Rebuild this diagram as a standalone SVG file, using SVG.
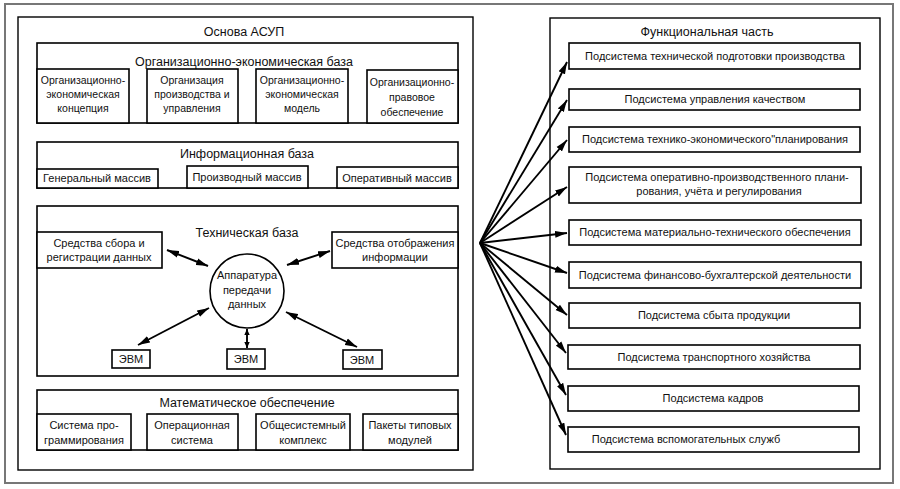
<svg xmlns="http://www.w3.org/2000/svg" width="900" height="489" viewBox="0 0 900 489">
<defs>
<marker id="ah" markerUnits="userSpaceOnUse" markerWidth="12" markerHeight="8" refX="12" refY="4" orient="auto-start-reverse">
<path d="M0,0.5 L12,4 L0,7.5 z" fill="#000"/>
</marker>
<marker id="as" markerUnits="userSpaceOnUse" markerWidth="6" markerHeight="6" refX="6" refY="3" orient="auto-start-reverse">
<path d="M0,0.3 L6,3 L0,5.7 z" fill="#000"/>
</marker>
</defs>
<style>
text{font-family:"Liberation Sans",Arial,sans-serif;font-size:11px;fill:#111;text-anchor:middle}
.t{font-size:12.5px}
.h{font-size:12.5px}
.s{font-size:10.5px}
.b{fill:#fff;stroke:#000;stroke-width:1.6}
.p{fill:none;stroke:#000;stroke-width:1.4}
.c{stroke:#000;stroke-width:1.9;fill:none;marker-end:url(#ah)}
.d{stroke:#000;stroke-width:1.9;fill:none;marker-end:url(#ah);marker-start:url(#ah)}
.ds{stroke:#000;stroke-width:1.9;fill:none;marker-end:url(#as);marker-start:url(#as)}
</style>
<rect width="900" height="489" fill="#fff"/>
<rect x="5" y="4" width="888" height="479" fill="none" stroke="#777" stroke-width="2"/>

<g id="osnova">
<rect class="p" x="18" y="17" width="455" height="453"/>
<text class="t" x="244" y="36">Основа АСУП</text>
</g>

<g id="org-base">
<rect class="b" x="37" y="43" width="421" height="80"/>
<text class="h" x="244" y="66">Организационно-экономическая база</text>
</g>
<g id="org1"><rect class="b" x="37" y="69" width="92" height="54"/>
<text class="s" x="83" y="84">Организационно-</text><text class="s" x="83" y="98">экономическая</text><text class="s" x="83" y="112">концепция</text></g>
<g id="org2"><rect class="b" x="147" y="69" width="91" height="54"/>
<text class="s" x="192" y="84">Организация</text><text class="s" x="192" y="98">производства и</text><text class="s" x="192" y="112">управления</text></g>
<g id="org3"><rect class="b" x="256" y="69" width="92" height="54"/>
<text class="s" x="302" y="84">Организационно-</text><text class="s" x="302" y="98">экономическая</text><text class="s" x="302" y="112">модель</text></g>
<g id="org4"><rect class="b" x="367" y="70" width="91" height="53"/>
<text class="s" x="412" y="86">Организационно-</text><text class="s" x="412" y="101">правовое</text><text class="s" x="412" y="116">обеспечение</text></g>

<g id="info-base">
<rect class="b" x="37" y="142" width="421" height="46"/>
<text class="h" x="247" y="158">Информационная база</text>
</g>
<g id="info1"><rect class="b" x="37" y="169" width="121" height="19"/><text x="97" y="182">Генеральный массив</text></g>
<g id="info2"><rect class="b" x="187" y="166" width="121" height="22"/><text x="247" y="181">Производный массив</text></g>
<g id="info3"><rect class="b" x="337" y="167" width="121" height="21"/><text x="397" y="182">Оперативный массив</text></g>

<g id="tech-base">
<rect class="b" x="37" y="206" width="421" height="170"/>
<text class="h" x="247" y="237">Техническая база</text>
</g>
<g id="sbor"><rect class="b" x="37" y="232" width="125" height="36"/>
<text x="99" y="247">Средства сбора и</text><text x="99" y="261">регистрации данных</text></g>
<g id="otobr"><rect class="b" x="332" y="232" width="126" height="36"/>
<text x="395" y="247">Средства отображения</text><text x="395" y="261">информации</text></g>
<g id="apparatura"><circle class="b" cx="247" cy="291" r="37"/>
<text x="247" y="279">Аппаратура</text><text x="247" y="294">передачи</text><text x="247" y="308">данных</text></g>
<g id="evm1"><rect class="b" x="112" y="350" width="38" height="18"/><text x="131" y="363">ЭВМ</text></g>
<g id="evm2"><rect class="b" x="227" y="349" width="38" height="20"/><text x="246" y="363">ЭВМ</text></g>
<g id="evm3"><rect class="b" x="343" y="350" width="39" height="19"/><text x="362" y="364">ЭВМ</text></g>

<g id="math">
<rect class="b" x="37" y="390" width="421" height="60"/>
<text class="h" x="247" y="407">Математическое  обеспечение</text>
</g>
<g id="m1"><rect class="b" x="37" y="414" width="94" height="36"/><text x="84" y="429">Система про-</text><text x="84" y="444">граммирования</text></g>
<g id="m2"><rect class="b" x="147" y="414" width="91" height="36"/><text x="192" y="429">Операционная</text><text x="192" y="444">система</text></g>
<g id="m3"><rect class="b" x="256" y="414" width="94" height="36"/><text x="303" y="429">Общесистемный</text><text x="303" y="444">комплекс</text></g>
<g id="m4"><rect class="b" x="363" y="414" width="95" height="36"/><text x="410" y="429">Пакеты типовых</text><text x="410" y="444">модулей</text></g>

<g id="func">
<rect class="p" x="550" y="18" width="330" height="451"/>
<text class="t" x="707" y="36">Функциональная часть</text>
</g>
<g id="f1"><rect class="b" x="569" y="43" width="291" height="26"/><text x="715" y="60">Подсистема технической подготовки производства</text></g>
<g id="f2"><rect class="b" x="569" y="89" width="291" height="21"/><text x="715" y="103">Подсистема управления качеством</text></g>
<g id="f3"><rect class="b" x="569" y="127" width="291" height="25"/><text x="715" y="143">Подсистема технико-экономического"планирования</text></g>
<g id="f4"><rect class="b" x="569" y="167" width="292" height="36"/><text x="717" y="181">Подсистема оперативно-производственного плани-</text><text x="719" y="195">рования, учёта и регулирования</text></g>
<g id="f5"><rect class="b" x="569" y="220" width="292" height="25"/><text x="715" y="236">Подсистема материально-технического обеспечения</text></g>
<g id="f6"><rect class="b" x="569" y="262" width="292" height="26"/><text x="715" y="279">Подсистема финансово-бухгалтерской деятельности</text></g>
<g id="f7"><rect class="b" x="569" y="303" width="291" height="25"/><text x="714" y="319">Подсистема сбыта продукции</text></g>
<g id="f8"><rect class="b" x="568" y="345" width="292" height="24"/><text x="714" y="361">Подсистема транспортного хозяйства</text></g>
<g id="f9"><rect class="b" x="568" y="386" width="291" height="25"/><text x="713" y="402">Подсистема кадров</text></g>
<g id="f10"><rect class="b" x="568" y="427" width="291" height="25"/><text x="686" y="443">Подсистема вспомогательных служб</text></g>

<g id="connectors">
<line class="d" x1="167" y1="250" x2="208" y2="266"/>
<line class="d" x1="287" y1="265" x2="330" y2="251"/>
<line class="d" x1="138" y1="345" x2="209" y2="308"/>
<line class="ds" x1="247" y1="329" x2="247" y2="348"/>
<line class="d" x1="286" y1="312" x2="357" y2="347"/>
<line class="c" x1="480" y1="243" x2="567" y2="62"/>
<line class="c" x1="480" y1="243" x2="567" y2="100"/>
<line class="c" x1="480" y1="243" x2="567" y2="140"/>
<line class="c" x1="480" y1="243" x2="567" y2="187"/>
<line class="c" x1="480" y1="243" x2="567" y2="233"/>
<line class="c" x1="480" y1="243" x2="567" y2="273"/>
<line class="c" x1="480" y1="243" x2="567" y2="315"/>
<line class="c" x1="480" y1="243" x2="566" y2="353"/>
<line class="c" x1="480" y1="243" x2="566" y2="395"/>
<line class="c" x1="480" y1="243" x2="566" y2="435"/>
</g>
</svg>
